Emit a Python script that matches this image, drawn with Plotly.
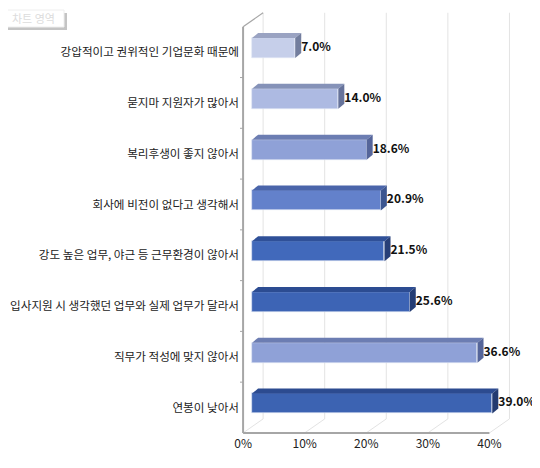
# -*- coding: utf-8 -*-
"""
Pseudo-3D horizontal bar chart (Excel style) with plotly
"""

import plotly.graph_objects as go

categories = [
    '강압적이고 권위적인 기업문화 때문에',
    '묻지마 지원자가 많아서',
    '복리후생이 좋지 않아서',
    '회사에 비전이 없다고 생각해서',
    '강도 높은 업무, 야근 등 근무환경이 않아서',
    '입사지원 시 생각했던 업무와 실제 업무가 달라서',
    '직무가 적성에 맞지 않아서',
    '연봉이 낮아서',
]
values = [7.0, 14.0, 18.6, 20.9, 21.5, 25.6, 36.6, 39.0]

front_colors = ['#c6cfea', '#adbae2', '#8fa1d7', '#6381cb', '#4169bb', '#3d64b5', '#8fa1d7', '#3c63b2']
top_colors = ['#9aa3c2', '#8592b8', '#6c7db2', '#4a65aa', '#2f5098', '#2c4c92', '#6c7db2', '#2c4b90']
side_colors = ['#737e9e', '#66739b', '#55659a', '#3c558f', '#273f78', '#243c74', '#55659a', '#233a70']

x_ticks = [0, 10, 20, 30, 40]

# projection offsets (in data units)
front_dx = 1.46       # bar front face sits a bit into the depth
face_dx, face_dy = 0.98, -0.0985
back_dx, back_dy = 3.25, -0.276
bar_w = 0.394
bar_shift = -0.08

# the page body has an 8px margin, so the figure is drawn 8px smaller
PAGE_PAD = 8
W, H = 540 - PAGE_PAD, 468 - PAGE_PAD
ML, MR, MT, MB = 240 - PAGE_PAD, 29, 9 - PAGE_PAD, 30
PW, PH = W - ML - MR, H - MT - MB


def paper_x(px):
    return (px - PAGE_PAD - ML) / PW


def paper_y(py):
    return (H - MB - (py - PAGE_PAD)) / PH


n = len(categories)
ypos = list(range(n))

fig = go.Figure()

fig.add_trace(go.Bar(
    x=values,
    y=[i + bar_shift for i in ypos],
    base=front_dx,
    orientation='h',
    width=bar_w,
    marker=dict(color=front_colors, line=dict(color='#dfe5f5', width=0.6)),
    hoverinfo='x',
    showlegend=False,
))

for i, v in enumerate(values):
    yc = i + bar_shift
    yt = yc - bar_w / 2
    yb = yc + bar_w / 2
    x0 = front_dx
    x1 = front_dx + v
    # top face
    fig.add_trace(go.Scatter(
        x=[x0, x1, x1 + face_dx, x0 + face_dx, x0],
        y=[yt, yt, yt + face_dy, yt + face_dy, yt],
        fill='toself', fillcolor=top_colors[i], mode='lines',
        line=dict(width=0), hoverinfo='skip', showlegend=False,
    ))
    # side face
    fig.add_trace(go.Scatter(
        x=[x1, x1 + face_dx, x1 + face_dx, x1, x1],
        y=[yt, yt + face_dy, yb + face_dy, yb, yt],
        fill='toself', fillcolor=side_colors[i], mode='lines',
        line=dict(width=0), hoverinfo='skip', showlegend=False,
    ))

fig.add_trace(go.Scatter(
    x=[front_dx + v + face_dx for v in values],
    y=[i + bar_shift for i in ypos],
    mode='text',
    text=[f'{v:.1f}%' for v in values],
    textposition='middle right',
    textfont=dict(family='Noto Sans CJK KR', size=12, color='#111111', weight='bold'),
    cliponaxis=False,
    hoverinfo='skip',
    showlegend=False,
))

shapes = []
grid = dict(color='#e3e3e3', width=1)
for t in x_ticks:
    # back wall gridlines
    shapes.append(dict(type='line', xref='x', yref='y', layer='below',
                       x0=t + back_dx, x1=t + back_dx,
                       y0=-0.5 + back_dy, y1=n - 0.5 + back_dy, line=grid))
    # floor diagonals
    shapes.append(dict(type='line', xref='x', yref='y', layer='below',
                       x0=t, x1=t + back_dx,
                       y0=n - 0.5, y1=n - 0.5 + back_dy, line=grid))
axis_line = dict(color='#a6a6a6', width=2)
shapes.append(dict(type='line', xref='x', yref='y', x0=0, x1=0,
                   y0=-0.5, y1=n - 0.5, line=axis_line))
shapes.append(dict(type='line', xref='x', yref='y', x0=0, x1=x_ticks[-1],
                   y0=n - 0.5, y1=n - 0.5, line=axis_line))
shapes.append(dict(type='line', xref='x', yref='y', x0=0, x1=back_dx,
                   y0=-0.5, y1=-0.5 + back_dy, line=dict(color='#a6a6a6', width=1.2)))
for i in range(n - 1):
    shapes.append(dict(type='line', xref='x', yref='y', x0=-0.6, x1=0,
                       y0=i + 0.5, y1=i + 0.5, line=dict(color='#a6a6a6', width=1)))

# "차트 영역" tag in the corner
shapes.append(dict(type='rect', xref='paper', yref='paper',
                   x0=paper_x(8), x1=paper_x(67),
                   y0=paper_y(30), y1=paper_y(13),
                   fillcolor='#c4c4c4', line=dict(width=0)))
shapes.append(dict(type='rect', xref='paper', yref='paper',
                   x0=paper_x(5), x1=paper_x(64),
                   y0=paper_y(27), y1=paper_y(10),
                   fillcolor='#ffffff', line=dict(color='#eeeeee', width=1)))

fig.update_layout(
    width=W,
    height=H,
    margin=dict(l=ML, r=MR, t=MT, b=MB),
    paper_bgcolor='white',
    plot_bgcolor='white',
    font=dict(family='Noto Sans CJK KR', color='#222222'),
    shapes=shapes,
    annotations=[dict(
        xref='paper', yref='paper', x=paper_x(33), y=paper_y(18.5),
        xanchor='center', yanchor='middle',
        text='차트 영역', showarrow=False,
        font=dict(family='Noto Sans CJK KR', size=11, color='#dcdcdc'),
    )],
    xaxis=dict(
        range=[-0.5, 43.5],
        tickvals=x_ticks,
        ticktext=[f'{t}%' for t in x_ticks],
        showgrid=False, zeroline=False, showline=False, ticks='',
        ticklabelstandoff=-3,
        tickfont=dict(family='Noto Sans CJK KR', size=12, color='#222222'),
        fixedrange=True,
    ),
    yaxis=dict(
        range=[n - 0.4, -0.85],
        tickvals=ypos,
        ticktext=categories,
        showgrid=False, zeroline=False, showline=False, ticks='',
        tickfont=dict(family='Noto Sans CJK KR', size=11.6, color='#222222'),
        fixedrange=True,
    ),
    bargap=0,
)

fig.write_html('out.html')
